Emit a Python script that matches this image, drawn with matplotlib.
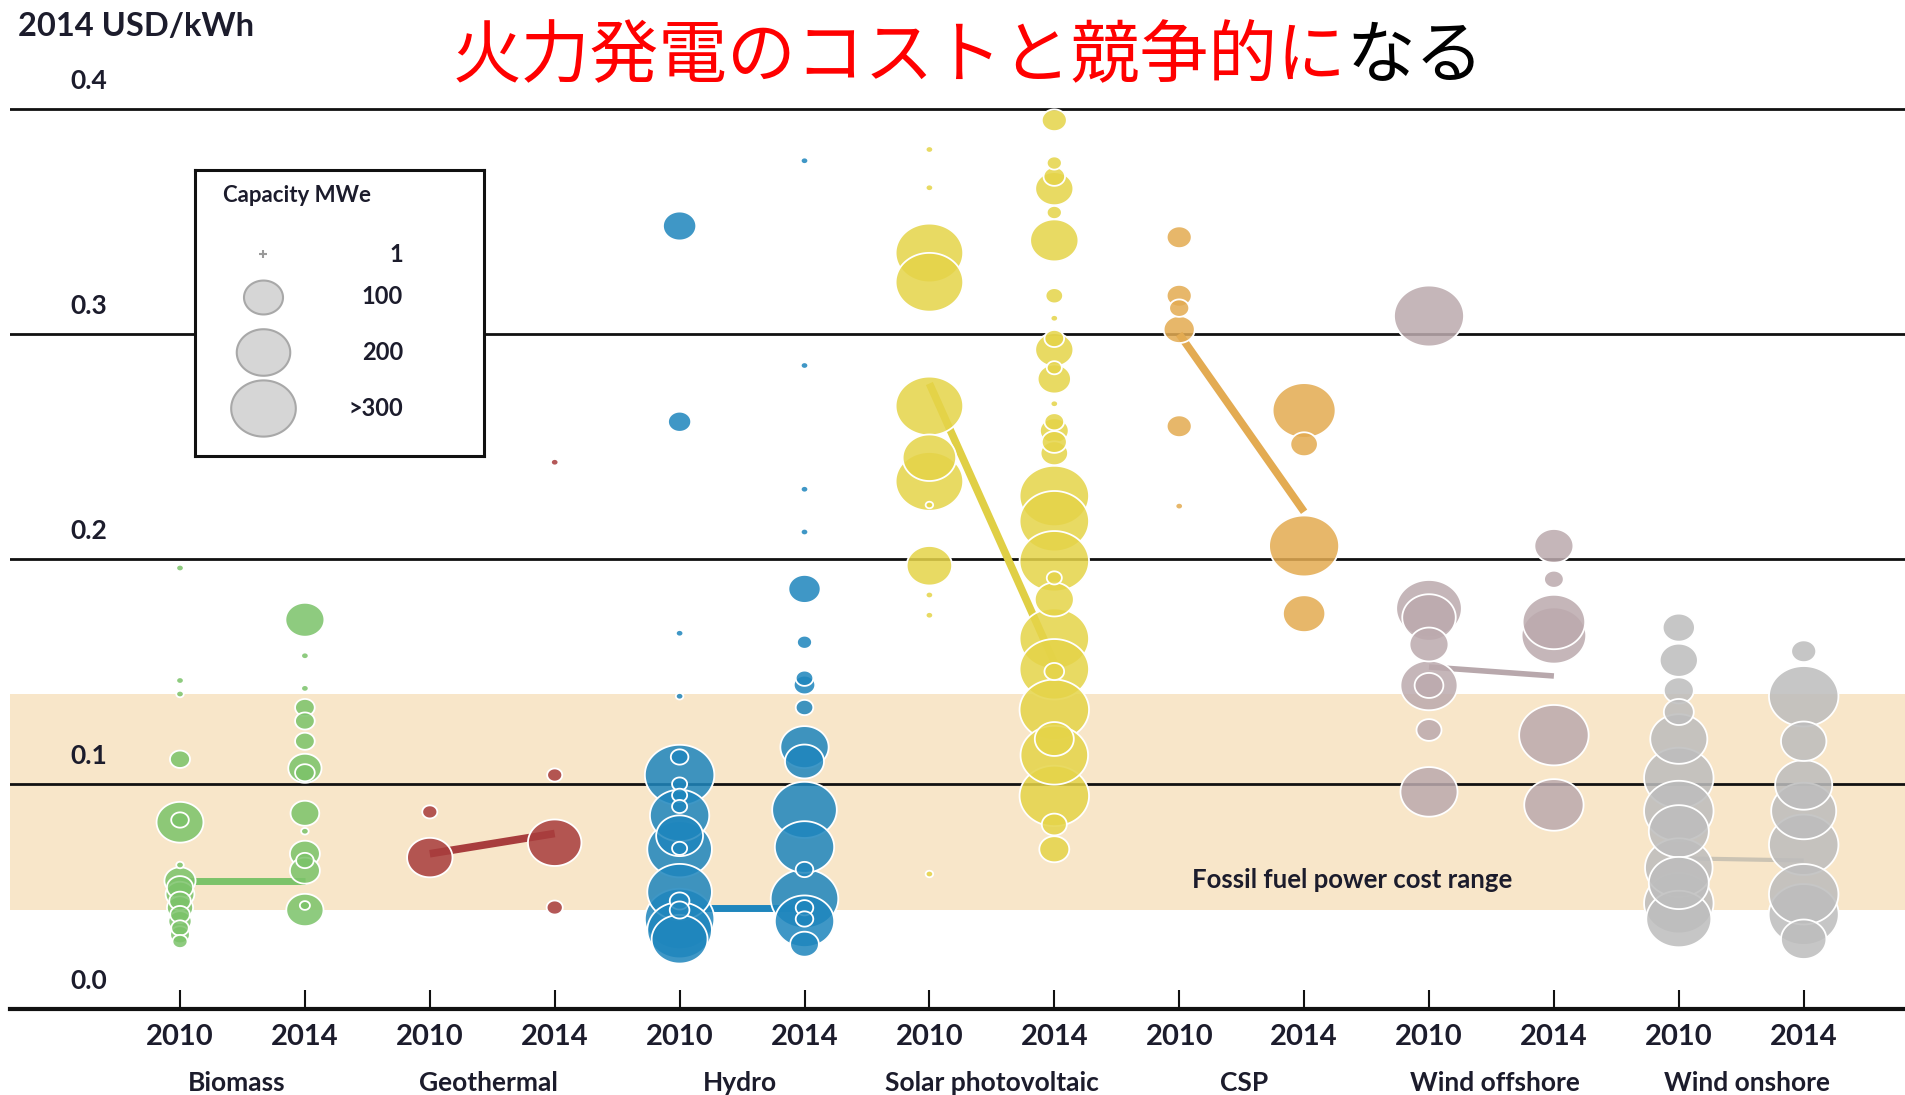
import numpy as np
import matplotlib
matplotlib.use('Agg')
import matplotlib.pyplot as plt
from matplotlib.path import Path
from matplotlib.colors import to_rgba

plt.rcParams['font.family'] = ['Lato', 'DejaVu Sans']

# ---------------- data ----------------
technologies = ['Biomass', 'Geothermal', 'Hydro', 'Solar photovoltaic', 'CSP',
                'Wind offshore', 'Wind onshore']
years = ['2010', '2014']
y_ticks = [0.0, 0.1, 0.2, 0.3, 0.4]
y_tick_labels = ['0.0', '0.1', '0.2', '0.3', '0.4']

biomass_2010_cost = [0.196, 0.146, 0.140, 0.111, 0.083, 0.084, 0.064, 0.057, 0.054, 0.051,
                     0.048, 0.045, 0.042, 0.039, 0.036, 0.033, 0.030]
biomass_2010_mw = [1, 1, 1, 21, 150, 15, 1, 60, 40, 50, 25, 40, 20, 30, 15, 20, 10]
biomass_2014_cost = [0.173, 0.157, 0.1425, 0.134, 0.128, 0.119, 0.107, 0.105, 0.087, 0.079,
                     0.069, 0.0615, 0.066, 0.044, 0.046]
biomass_2014_mw = [100, 1, 1, 20, 20, 20, 70, 20, 50, 1, 55, 55, 15, 90, 3]

geothermal_2010_cost = [0.0876, 0.0673]
geothermal_2010_mw = [10, 140]
geothermal_2014_cost = [0.243, 0.104, 0.0739, 0.0451]
geothermal_2014_mw = [1, 10, 200, 12]

hydro_2010_cost = [0.348, 0.261, 0.167, 0.139, 0.112, 0.104, 0.100, 0.095, 0.090, 0.086, 0.077,
                   0.071, 0.0714, 0.052, 0.048, 0.044, 0.040, 0.035, 0.031]
hydro_2010_mw = [70, 30, 1, 1, 15, 350, 10, 10, 10, 250, 150, 300, 10, 300, 20, 20, 350, 300, 220]
hydro_2014_cost = [0.377, 0.286, 0.231, 0.212, 0.1867, 0.163, 0.147, 0.144, 0.134, 0.1164, 0.110,
                   0.0885, 0.072, 0.062, 0.049, 0.039, 0.0288, 0.045, 0.040]
hydro_2014_mw = [1, 1, 1, 1, 65, 10, 15, 25, 15, 160, 100, 300, 250, 15, 330, 250, 50, 15, 15]

pv_2010_cost = [0.382, 0.365, 0.336, 0.323, 0.268, 0.245, 0.2345, 0.224, 0.197, 0.184, 0.175, 0.060]
pv_2010_mw = [1, 1, 330, 330, 330, 200, 330, 1, 140, 1, 1, 1]
pv_2014_cost = [0.395, 0.376, 0.370, 0.3646, 0.354, 0.3416, 0.317, 0.307, 0.293, 0.298, 0.285,
                0.280, 0.269, 0.261, 0.257, 0.252, 0.247, 0.228, 0.2168, 0.199, 0.1916, 0.182,
                0.1646, 0.151, 0.150, 0.133, 0.120, 0.1128, 0.0947, 0.082, 0.071]
pv_2014_mw = [36, 10, 25, 95, 10, 160, 15, 1, 95, 20, 10, 70, 1, 20, 50, 36, 45, 350, 350, 350,
              10, 100, 350, 350, 20, 350, 100, 330, 350, 36, 55]

csp_2010_cost = [0.343, 0.317, 0.3115, 0.302, 0.259, 0.2235]
csp_2010_mw = [36, 36, 21, 60, 36, 1]
csp_2014_cost = [0.266, 0.251, 0.2058, 0.1757]
csp_2014_mw = [284, 45, 356, 120]

offshore_2010_cost = [0.308, 0.178, 0.174, 0.162, 0.1438, 0.1438, 0.124, 0.0965]
offshore_2010_mw = [356, 310, 200, 100, 230, 50, 36, 230]
offshore_2014_cost = [0.2058, 0.191, 0.172, 0.166, 0.1217, 0.0907]
offshore_2014_mw = [100, 20, 280, 300, 350, 250]

onshore_2010_cost = [0.1695, 0.155, 0.1416, 0.132, 0.120, 0.1027, 0.088, 0.079, 0.0628, 0.056,
                     0.047, 0.040]
onshore_2010_mw = [65, 95, 55, 55, 230, 350, 350, 256, 330, 256, 350, 304]
onshore_2014_cost = [0.159, 0.139, 0.119, 0.0996, 0.088, 0.073, 0.051, 0.042, 0.031]
onshore_2014_mw = [36, 350, 140, 230, 304, 350, 350, 356, 140]

avg_2010 = [0.057, 0.069, 0.045, 0.278, 0.300, 0.152, 0.067]
avg_2014 = [0.057, 0.078, 0.045, 0.154, 0.221, 0.148, 0.066]

fossil_range = [0.044, 0.140]
legend_mw = [1, 100, 200, 300]
legend_labels = ['1', '100', '200', '>300']

columns = [
    (biomass_2010_cost, biomass_2010_mw), (biomass_2014_cost, biomass_2014_mw),
    (geothermal_2010_cost, geothermal_2010_mw), (geothermal_2014_cost, geothermal_2014_mw),
    (hydro_2010_cost, hydro_2010_mw), (hydro_2014_cost, hydro_2014_mw),
    (pv_2010_cost, pv_2010_mw), (pv_2014_cost, pv_2014_mw),
    (csp_2010_cost, csp_2010_mw), (csp_2014_cost, csp_2014_mw),
    (offshore_2010_cost, offshore_2010_mw), (offshore_2014_cost, offshore_2014_mw),
    (onshore_2010_cost, onshore_2010_mw), (onshore_2014_cost, onshore_2014_mw),
]

# ---------------- styles ----------------
tech_colors = ['#7cc36a', '#a83d3d', '#1f86bd', '#e5d449', '#e3ab52', '#bcaaae', '#bdbdbd']
line_colors = ['#7cc36a', '#a83d3d', '#1f86bd', '#e0cf45', '#e3ab52', '#b8a8ac', '#cbc3b3']
line_widths = [5, 5.5, 5, 5.5, 5.5, 4, 3]
text_color = '#1c1c2c'
band_color = '#f8e6c9'

W, H = 1905, 1095
fig = plt.figure(figsize=(W / 100, H / 100), dpi=100)

PX_PER_UNIT = 2250.0
x0px, step, left_px, axis_px = 180.0, 124.9, 10.0, 1009.0
ytop = 0.41
ax = fig.add_axes([left_px / W, (H - axis_px) / H, (W - left_px) / W, ytop * PX_PER_UNIT / H])
ax.set_xlim((left_px - x0px) / step, (W - x0px) / step)
ax.set_ylim(0, ytop)
ax.patch.set_alpha(0)

for s in ['top', 'left', 'right']:
    ax.spines[s].set_visible(False)
ax.spines['bottom'].set_linewidth(3)
ax.spines['bottom'].set_color('#111111')
ax.set_yticks([])
ax.set_xticks(range(len(columns)))
ax.set_xticklabels(years * len(technologies))
ax.tick_params(axis='x', direction='in', length=14, width=1.5, pad=11, labelsize=21,
               labelcolor=text_color, color='#111111')
for lab in ax.get_xticklabels():
    lab.set_fontweight('bold')

ax.axhspan(fossil_range[0], fossil_range[1], color=band_color, lw=0, zorder=0)
for v in y_ticks[1:]:
    ax.axhline(v, color='#111111', lw=2, zorder=1)

ylab_x = (89 - x0px) / step
for v, lab in zip(y_ticks, y_tick_labels):
    ax.text(ylab_x, v + 0.0124, lab, ha='center', va='center', fontsize=19,
            fontweight='bold', color=text_color)

# ellipse marker (source graphic is slightly stretched horizontally)
theta = np.linspace(0, 2 * np.pi, 120)
ellipse = Path(np.column_stack([1.15 * np.cos(theta), np.sin(theta)]), closed=True)


def bubble_size(mw):
    w_px = 4 + 3.5 * np.sqrt(np.asarray(mw, dtype=float))
    return (w_px * 0.72) ** 2


for t in range(len(technologies)):
    ax.plot([2 * t, 2 * t + 1], [avg_2010[t], avg_2014[t]], color=line_colors[t],
            lw=line_widths[t], solid_capstyle='butt', zorder=2)

for i, (cost, mw) in enumerate(columns):
    cost = np.asarray(cost)
    mw = np.asarray(mw)
    order = np.argsort(-mw, kind='stable')
    col = tech_colors[i // 2]
    ax.scatter(np.full(len(cost), i), cost[order], s=bubble_size(mw[order]), marker=ellipse,
               facecolors=[to_rgba(col, 0.86)], edgecolors='white', linewidths=1.3,
               zorder=3, clip_on=False)

for t, name in enumerate(technologies):
    ax.text(2.015 * t + 0.456, -0.033, name, ha='center', va='center', fontsize=19,
            fontweight='bold', color=text_color, clip_on=False)

ax.text((1352 - x0px) / step, 0.0573, 'Fossil fuel power cost range', ha='center',
        va='center', fontsize=18.5, fontweight='bold', color=text_color, zorder=4)

fig.text(18 / W, 1 - 27 / H, '2014 USD/kWh', ha='left', va='center', fontsize=23.5,
         fontweight='bold', color=text_color)

# ---------------- legend ----------------
lx0, ly0, lx1, ly1 = 195, 170, 484, 456
lax = fig.add_axes([lx0 / W, 1 - ly1 / H, (lx1 - lx0) / W, (ly1 - ly0) / H], zorder=5)
lax.set_xlim(lx0, lx1)
lax.set_ylim(ly1, ly0)
lax.set_xticks([])
lax.set_yticks([])
lax.set_facecolor('white')
for s in lax.spines.values():
    s.set_linewidth(2.2)
    s.set_color('#111111')
lax.text(223, 196, 'Capacity MWe', ha='left', va='center', fontsize=16, fontweight='bold',
         color=text_color)
leg_rows = [254, 297, 352, 408]
for mw, lab, yy in zip(legend_mw, legend_labels, leg_rows):
    if mw <= 1:
        lax.scatter([263], [yy], marker='+', s=40, color='#9a9a9a', linewidths=1.5)
    else:
        lax.scatter([263], [yy], s=bubble_size([mw]), marker=ellipse, facecolors='#d6d6d6',
                    edgecolors='#a8a8a8', linewidths=1.5, clip_on=False)
    lax.text(403, yy, lab, ha='right', va='center', fontsize=17, fontweight='bold',
             color=text_color)

# ---------------- title ----------------
jp = ['Noto Sans CJK JP', 'DejaVu Sans']
ty = 1 - 58 / H
t1 = fig.text(453 / W, ty, '火力発電のコストと競争的に', color='#ff0000', fontsize=49.5,
              family=jp, ha='left', va='center')
fig.canvas.draw()
bb = t1.get_window_extent()
fig.text(bb.x1 / W, ty, 'なる', color='black', fontsize=49.5, family=jp,
         ha='left', va='center')

fig.savefig('out.png', dpi=100)
